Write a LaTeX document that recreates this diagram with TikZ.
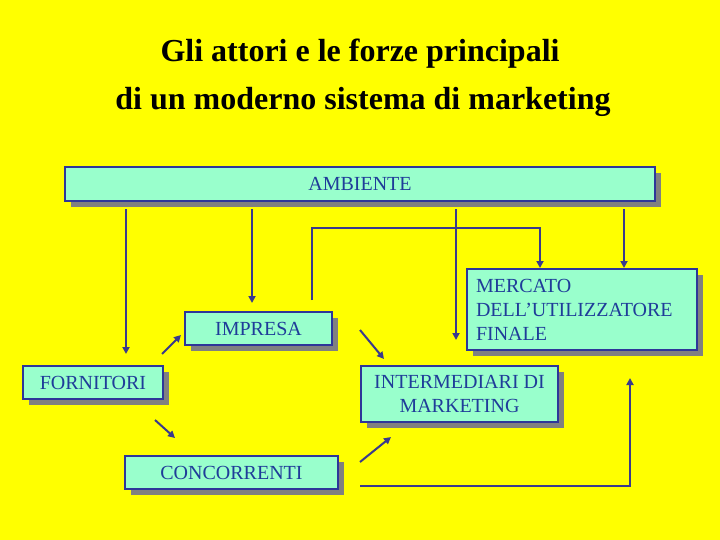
\documentclass[tikz,border=0pt]{standalone}
\usepackage{fontspec}
\setmainfont{Liberation Serif}
\usetikzlibrary{arrows.meta,shadows}
\definecolor{bg}{HTML}{FFFF00}
\definecolor{boxfill}{HTML}{99FFCC}
\definecolor{boxline}{HTML}{2E3699}
\definecolor{boxtext}{HTML}{1F3C99}
\definecolor{conncol}{HTML}{3A3A8C}
\definecolor{shadowgray}{HTML}{808080}
\begin{document}
\begin{tikzpicture}[x=1pt,y=-1pt,
  box/.style={draw=boxline, line width=2.5pt, fill=boxfill, text=boxtext,
    font=\fontsize{20}{24}\selectfont, inner sep=0pt,
    drop shadow={shadow xshift=6pt, shadow yshift=-6pt, fill=shadowgray, opacity=1}},
  conn/.style={draw=conncol, line width=2pt},
  arr/.style={conn, -{Triangle[length=7pt,width=7pt]}},
  title/.style={font=\fontsize{32}{38}\selectfont\bfseries, anchor=base, inner sep=0pt}]
\fill[bg] (0,0) rectangle (720,540);
\useasboundingbox (0,0) rectangle (720,540);

% titles
\node[title] (t1) at (360,62) {Gli attori e le forze principali};
\node[title] (t2) at (363,110) {di un moderno sistema di marketing};

% coordinates for connectors
\coordinate (fo-in) at (126,354);
\coordinate (im-in) at (252,303);
\coordinate (br-start) at (312,300);
\coordinate (br-corner) at (540,228);
\coordinate (me-in1) at (540,268);
\coordinate (mid-in) at (456,340);
\coordinate (me-in2) at (624,268);
\coordinate (a1s) at (162,354); \coordinate (a1e) at (181,335);
\coordinate (a2s) at (360,330); \coordinate (a2e) at (384,359);
\coordinate (a3s) at (155,420); \coordinate (a3e) at (175,438);
\coordinate (a4s) at (360,462); \coordinate (a4e) at (391,437);
\coordinate (bot-start) at (360,486);
\coordinate (bot-end) at (630,378);

% boxes
\node[box, minimum width=590pt, minimum height=34pt] (amb) at (360,184) {AMBIENTE};
\node[box, minimum width=147pt, minimum height=33pt] (imp) at (258.5,328.5) {IMPRESA};
\node[box, minimum width=230pt, minimum height=81pt, text width=212pt, align=left] (me) at (582,309.5) {MERCATO\\DELL’UTILIZZATORE\\FINALE};
\node[box, minimum width=140pt, minimum height=33pt] (fo) at (93,382.5) {FORNITORI};
\node[box, minimum width=197pt, minimum height=56pt, align=center] (int) at (459.5,394) {INTERMEDIARI DI\\MARKETING};
\node[box, minimum width=213pt, minimum height=33pt] (con) at (231.5,472.5) {CONCORRENTI};

% connectors
\draw[arr] ([yshift=-7pt]amb.south -| fo-in) -- (fo-in);
\draw[arr] ([yshift=-7pt]amb.south -| im-in) -- (im-in);
\draw[arr] (br-start) |- (br-corner) -- (me-in1);
\draw[arr] ([yshift=-7pt]amb.south -| mid-in) -- (mid-in);
\draw[arr] ([yshift=-7pt]amb.south -| me-in2) -- (me-in2);
\draw[arr] (a1s) -- (a1e);
\draw[arr] (a2s) -- (a2e);
\draw[arr] (a3s) -- (a3e);
\draw[arr] (a4s) -- (a4e);
\draw[arr] (bot-start) -| (bot-end);
\end{tikzpicture}
\end{document}
